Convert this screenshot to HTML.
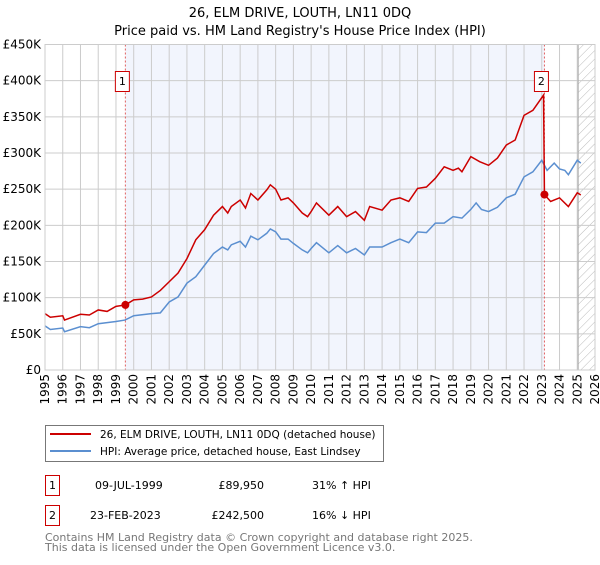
<!DOCTYPE html>
<html><head><meta charset="utf-8"><style>
body{margin:0;background:#fff;font-family:"Liberation Sans","DejaVu Sans",sans-serif;}
svg text{font-family:"DejaVu Sans","Liberation Sans",sans-serif;}
</style></head><body>
<svg width="600" height="560" viewBox="0 0 600 560" xmlns="http://www.w3.org/2000/svg">
<defs><pattern id="hatch" width="6" height="6" patternUnits="userSpaceOnUse" patternTransform="rotate(45)"><line x1="0" y1="0" x2="0" y2="6" stroke="#bbb" stroke-width="1"/></pattern></defs>
<text x="300" y="17" text-anchor="middle" font-size="13">26, ELM DRIVE, LOUTH, LN11 0DQ</text>
<text x="300" y="35" text-anchor="middle" font-size="13">Price paid vs. HM Land Registry's House Price Index (HPI)</text>
<g id="plot"></g>
<g>
<rect x="45.5" y="425.5" width="338" height="36" fill="#fff" stroke="#777"/>
<line x1="50" y1="434" x2="91" y2="434" stroke="#cc0000" stroke-width="2"/>
<text x="100" y="438" font-size="10.5">26, ELM DRIVE, LOUTH, LN11 0DQ (detached house)</text>
<line x1="50" y1="451" x2="91" y2="451" stroke="#5b8fd0" stroke-width="2"/>
<text x="100" y="455" font-size="10.5">HPI: Average price, detached house, East Lindsey</text>
</g>
<g font-size="11">
<rect x="45.5" y="475.5" width="14" height="20" fill="#fff" stroke="#cc0000"/>
<text x="52.5" y="489" text-anchor="middle">1</text>
<text x="95" y="489">09-JUL-1999</text>
<text x="264" y="489" text-anchor="end">£89,950</text>
<text x="312" y="489">31% ↑ HPI</text>
<rect x="45.5" y="505.5" width="14" height="20" fill="#fff" stroke="#cc0000"/>
<text x="52.5" y="519" text-anchor="middle">2</text>
<text x="90" y="519">23-FEB-2023</text>
<text x="264" y="519" text-anchor="end">£242,500</text>
<text x="312" y="519">16% ↓ HPI</text>
</g>
<text x="45" y="541" font-size="11" fill="#777">Contains HM Land Registry data © Crown copyright and database right 2025.</text>
<text x="45" y="551" font-size="11" fill="#777">This data is licensed under the Open Government Licence v3.0.</text>
</svg>
<script>
const yTicks=[0,50,100,150,200,250,300,350,400,450];
const yTickLabels=["£0","£50K","£100K","£150K","£200K","£250K","£300K","£350K","£400K","£450K"];
const years=[1995,1996,1997,1998,1999,2000,2001,2002,2003,2004,2005,2006,2007,2008,2009,2010,2011,2012,2013,2014,2015,2016,2017,2018,2019,2020,2021,2022,2023,2024,2025,2026];
const hpiT=[1995,1995.3,1996,1996.1,1997,1997.5,1998,1999,1999.5,2000,2001,2001.5,2002,2002.5,2003,2003.5,2004,2004.5,2005,2005.3,2005.5,2006,2006.3,2006.6,2007,2007.5,2007.7,2008,2008.3,2008.7,2009,2009.5,2009.8,2010,2010.3,2011,2011.5,2012,2012.5,2013,2013.3,2014,2014.5,2015,2015.5,2016,2016.5,2017,2017.5,2018,2018.5,2019,2019.3,2019.6,2020,2020.5,2021,2021.5,2022,2022.5,2023,2023.3,2023.7,2024,2024.3,2024.5,2025,2025.2];
const hpiV=[61,56,58,53,60,58.5,64,67,69,75,78,79,94,101,120,129,145,161,170,166,173,178,170,185,180,189,195,191,181,181,175,166,162,168,176,162,172,162,168,159,170,170,176,181,176,191,190,203,203,212,210,222,231,222,219,225,238,243,267,274,290,276,286,278,276,270,290,286];
const propT=[1995,1995.3,1996,1996.1,1997,1997.5,1998,1998.5,1999,1999.53,2000,2000.5,2001,2001.5,2002,2002.5,2003,2003.5,2004,2004.5,2005,2005.3,2005.5,2006,2006.3,2006.6,2007,2007.5,2007.7,2008,2008.3,2008.7,2009,2009.5,2009.8,2010,2010.3,2011,2011.5,2012,2012.5,2013,2013.3,2014,2014.5,2015,2015.5,2016,2016.5,2017,2017.5,2018,2018.3,2018.5,2019,2019.5,2020,2020.5,2021,2021.5,2022,2022.5,2023.1,2023.15,2023.5,2024,2024.5,2025,2025.2];
const propV=[78,73,75,69,77,76,83,81,88,89.95,97,98,101,110,122,134,154,180,194,214,226,217,226,235,224,244,235,249,256,250,235,238,231,217,212,219,231,214,226,212,219,207,226,221,235,238,233,251,253,265,281,276,279,274,295,288,283,293,311,318,352,359,380,242.5,233,238,226,245,242];
const saleT=[1999.53,2023.15];
const saleV=[89.95,242.5];
const saleLabels=["1","2"];

const X0=45,X1=595,Y0=370,Y1=44.5,T0=1995,T1=2026,VMAX=450;
const sx=t=>X0+(t-T0)/(T1-T0)*(X1-X0);
const sy=v=>Y0-v/VMAX*(Y0-Y1);
const NS="http://www.w3.org/2000/svg";
const g=document.getElementById('plot');
function mk(tag,attrs,parent){const e=document.createElementNS(NS,tag);for(const k in attrs)e.setAttribute(k,attrs[k]);(parent||g).appendChild(e);return e;}
let e;
e=mk('rect',{x:sx(saleT[0]),y:Y1,width:sx(saleT[1])-sx(saleT[0]),height:Y0-Y1,fill:'#f2f5fd'});


e=mk('rect',{x:sx(2025.05),y:Y1,width:X1-sx(2025.05),height:Y0-Y1,fill:'url(#hatch)'});


yTicks.forEach((v,i)=>{
 e=mk('line',{x1:X0,x2:X1,y1:sy(v),y2:sy(v),stroke:'#ccc','stroke-width':1});
 
 
 e=mk('text',{x:X0-4,y:sy(v)+4,'text-anchor':'end','font-size':12});
 e.textContent=yTickLabels[i];
 
 
});
years.forEach(y=>{
 e=mk('line',{x1:sx(y),x2:sx(y),y1:Y1,y2:Y0,stroke:'#ccc','stroke-width':1});
 
 
 e=mk('text',{x:0,y:0,'font-size':12,'text-anchor':'end',transform:`translate(${sx(y)+4},${Y0+4}) rotate(-90)`});
 e.textContent=y;
 
 
});
e=mk('line',{x1:sx(2025.05),x2:sx(2025.05),y1:Y1,y2:Y0,stroke:'#aaa','stroke-width':1});


saleT.forEach((t,i)=>{
 e=mk('line',{x1:sx(t),x2:sx(t),y1:Y1,y2:Y0,stroke:'#e06060','stroke-width':1,'stroke-dasharray':'2,2'});
 
 
});
e=mk('polyline',{points:hpiT.map((t,i)=>sx(t)+','+sy(hpiV[i])).join(' '),fill:'none',stroke:'#5b8fd0','stroke-width':1.5});


e=mk('polyline',{points:propT.map((t,i)=>sx(t)+','+sy(propV[i])).join(' '),fill:'none',stroke:'#cc0000','stroke-width':1.5});


saleT.forEach((t,i)=>{
 e=mk('circle',{cx:sx(t),cy:sy(saleV[i]),r:4,fill:'#cc0000'});
 
 
 e=mk('rect',{x:sx(t)-10,y:71.5,width:14,height:20,fill:'#fff',stroke:'#cc0000'});
 
 
 e=mk('text',{x:sx(t)-3,y:85,'text-anchor':'middle','font-size':11});
 e.textContent=saleLabels[i];
 
 
});
e=mk('rect',{x:X0,y:Y1,width:X1-X0,height:Y0-Y1,fill:'none',stroke:'#ccc'});


</script>
</body></html>
